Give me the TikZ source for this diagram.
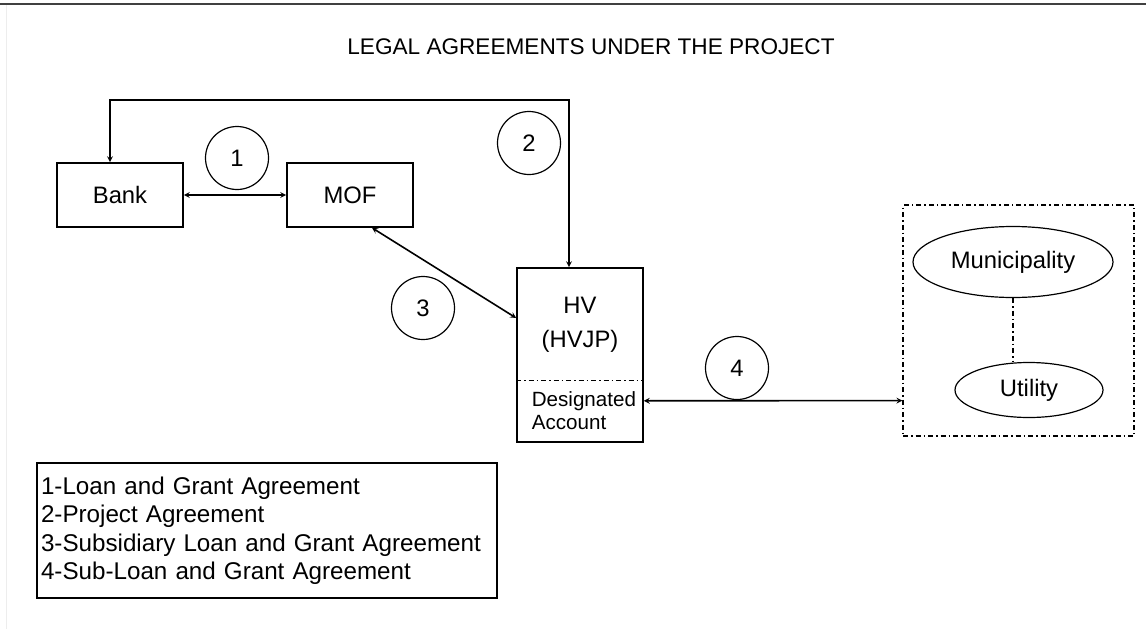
\documentclass[tikz,border=0pt]{standalone}
\usepackage{fontspec}
\setmainfont{Liberation Sans}
\usepackage{tikz}
\usetikzlibrary{arrows, shapes.geometric}

\begin{document}
\begin{tikzpicture}[
            x = 1pt, y = -1pt, % pixel grid, y down
            > = stealth, % arrow head style
            semithick, % line style
            line width = 1.6pt
        ]

        \tikzstyle{party}=[
            draw = black,
            rectangle,
            minimum width = 126pt,
            minimum height = 64pt,
            font = \fontsize{23.8}{27}\selectfont
        ]
        \tikzstyle{agree}=[
            draw = black,
            circle,
            line width = 1.2pt,
            minimum size = 63pt,
            inner sep = 0pt,
            font = \fontsize{23.8}{27}\selectfont
        ]
        \tikzstyle{local}=[
            draw = black,
            ellipse,
            line width = 1.2pt,
            inner sep = 0pt,
            font = \fontsize{23.8}{27}\selectfont
        ]
        \tikzstyle{dashdot}=[
            dash pattern = on 5pt off 3pt on 1.5pt off 3pt,
            line width = 1.2pt
        ]

        \useasboundingbox (0,0) rectangle (1146,629);

        % page frame
        \draw[line width = 1.5pt, black!75] (0,4) -- (1146,4);
        \draw[line width = 1pt, black!7] (6,5) -- (6,629);

        \node[font = \fontsize{22.6}{26}\selectfont] (title) at (591,47) {LEGAL AGREEMENTS UNDER THE PROJECT};

        \node[party] (bank) at (120,195) {Bank};
        \node[party] (mof) at (350,195) {MOF};
        \node[party, minimum height = 174pt] (hv) at (580,355) {};
        \node[font = \fontsize{23.8}{34}\selectfont, align = center] (hvname) at (580,325) {HV\\(HVJP)};
        \node[font = \fontsize{20.6}{23}\selectfont, align = left, anchor = west, inner sep = 0pt] (acct) at (531,411) {Designated\\Account};

        \node[draw = black, dashdot, minimum width = 231pt, minimum height = 231pt] (grp) at (1018.5,320.5) {};
        \node[local, minimum width = 200pt, minimum height = 71pt] (muni) at (1013,262) {Municipality};
        \node[local, minimum width = 148pt, minimum height = 55pt] (util) at (1029,390) {Utility};

        \node[agree] (c1) at (237,158) {1};
        \node[agree] (c2) at (529,143) {2};
        \node[agree] (c3) at (423,308) {3};
        \node[agree] (c4) at (737,368) {4};

        \node[draw = black, minimum width = 460pt, minimum height = 135pt,
              text width = 452pt, inner xsep = 3pt, align = left,
              font = \fontsize{24.2}{28.5}\selectfont] (legend) at (267,530.5)
            {1-Loan and Grant Agreement\\
             2-Project Agreement\\
             3-Subsidiary Loan and Grant Agreement\\
             4-Sub-Loan and Grant Agreement};

        % agreements
        \draw[<->] (bank) -- (mof);
        \draw[<->] ([xshift = -10pt]bank.north) -- ++(0,-62) -| ([xshift = -11pt]hv.north);
        \draw[<->] ([xshift = 22pt]mof.south) -- ([yshift = 37pt]hv.west);
        \draw[<->] ([yshift = 42pt]hv.south east) -- ([yshift = 36pt]grp.south west);

        \draw[dashdot] ([yshift = 62pt]hv.south west) -- ([yshift = 62pt]hv.south east);
        \draw[dashdot] (muni.south) -- (muni.south |- util.north);

  \end{tikzpicture}
\end{document}
